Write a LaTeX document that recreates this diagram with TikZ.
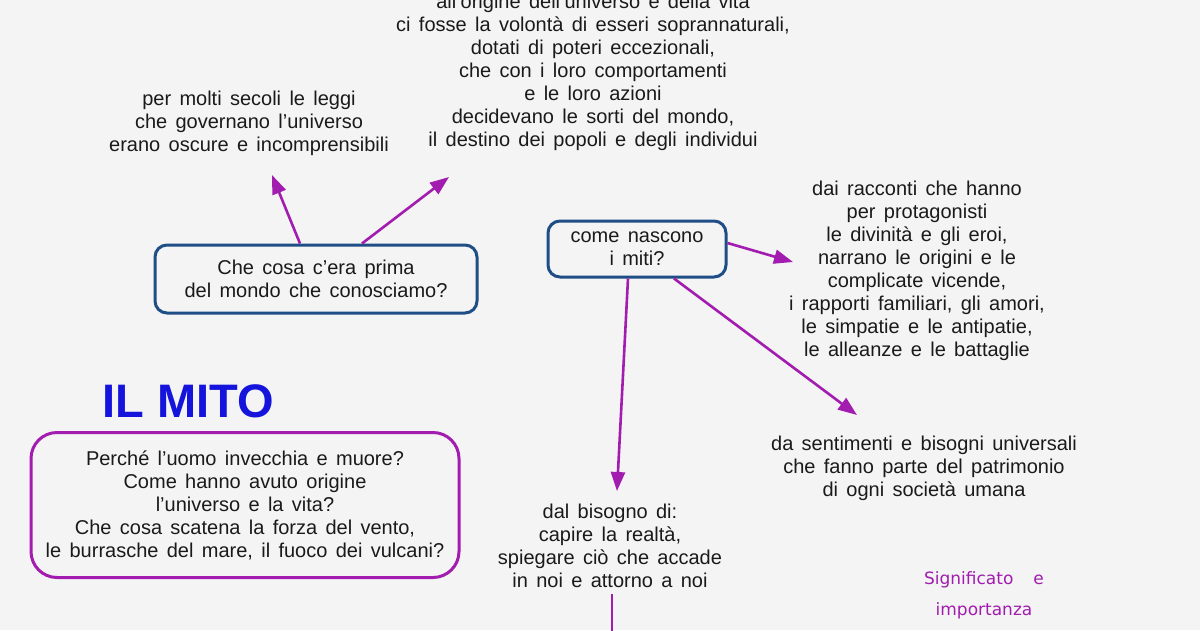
\documentclass[tikz,border=0pt]{standalone}
\usepackage{fontspec}
\setmainfont[WordSpace=1.5]{Liberation Sans}
\newfontfamily\titlefont{Liberation Sans}
\newfontfamily\notefont[WordSpace=1.2]{DejaVu Sans}
\usetikzlibrary{arrows.meta,positioning,calc}
\definecolor{paper}{HTML}{F4F4F4}
\definecolor{ink}{HTML}{1A1A1A}
\definecolor{boxblue}{HTML}{1F4E86}
\definecolor{mitoblue}{HTML}{1414DC}
\definecolor{plum}{HTML}{A21CAF}

\begin{document}
\begin{tikzpicture}[x=1pt,y=-1pt,
  font=\fontsize{20}{23}\selectfont,
  txt/.style={align=center,text=ink,inner sep=2pt},
  qbox/.style={draw=boxblue,line width=3pt,rounded corners=12pt,align=center,
               text=ink,inner sep=0pt},
  arr/.style={-{Triangle[length=19pt,width=14pt]},line width=2.6pt,draw=plum}]

\fill[paper] (0,0) rectangle (1200,630);
\useasboundingbox (0,0) rectangle (1200,630);

% titolo e domande iniziali
\node[font=\titlefont\fontsize{47}{47}\selectfont\bfseries,text=mitoblue] (mito) at (188,401) {IL MITO};
\node[draw=plum,line width=3pt,rounded corners=26pt,minimum width=428pt,minimum height=145pt,
      align=center,text=ink,inner sep=0pt] (domande) at (245,505)
      {Perché l’uomo invecchia e muore?\\ Come hanno avuto origine\\ l’universo e la vita?\\
       Che cosa scatena la forza del vento,\\ le burrasche del mare, il fuoco dei vulcani?};

% prima del mondo
\node[qbox,minimum width=322pt,minimum height=68pt] (prima) at (316,279)
      {Che cosa c’era prima\\ del mondo che conosciamo?};
\node[txt] (leggi) at (249,123) {per molti secoli le leggi\\ che governano l’universo\\
      erano oscure e incomprensibili};
\node[txt] (volonta) at (593,72) {all’origine dell’universo e della vita\\
      ci fosse la volontà di esseri soprannaturali,\\ dotati di poteri eccezionali,\\
      che con i loro comportamenti\\ e le loro azioni\\ decidevano le sorti del mondo,\\
      il destino dei popoli e degli individui};

% come nascono i miti
\node[qbox,minimum width=178pt,minimum height=56pt] (miti) at (637,249) {come nascono\\ i miti?};
\node[txt] (racconti) at (917,271) {dai racconti che hanno\\ per protagonisti\\
      le divinità e gli eroi,\\ narrano le origini e le\\ complicate vicende,\\
      i rapporti familiari, gli amori,\\ le simpatie e le antipatie,\\ le alleanze e le battaglie};
\node[txt] (sentimenti) at (924,468) {da sentimenti e bisogni universali\\
      che fanno parte del patrimonio\\ di ogni società umana};
\node[txt] (bisogno) at (610,546) {dal bisogno di:\\ capire la realtà,\\
      spiegare ciò che accade\\ in noi e attorno a noi};
\node[font=\notefont\fontsize{17}{31}\selectfont,text=plum,align=center] (significato) at (984,595)
      {Significato\hspace{20pt}e\\ importanza};

% punte delle frecce
\coordinate (tipLeggi) at (272,175);
\coordinate (tipVolonta) at (449,177);
\coordinate (tipRacconti) at (793,262);
\coordinate (tipBisogno) at (617,491);
\coordinate (tipSentimenti) at (857,415);
\coordinate (giu) at (612,640);

\draw[arr] ([xshift=-16pt]prima.north) -- (tipLeggi);
\draw[arr] ([xshift=46pt]prima.north) -- (tipVolonta);
\draw[arr] ([yshift=6pt]miti.east) -- (tipRacconti);
\draw[arr] ([xshift=-9pt]miti.south) -- (tipBisogno);
\draw[arr] ([xshift=37pt]miti.south) -- (tipSentimenti);
\draw[line width=2.6pt,draw=plum] ([yshift=-4pt]bisogno.south -| giu) -- (giu);
\end{tikzpicture}
\end{document}
